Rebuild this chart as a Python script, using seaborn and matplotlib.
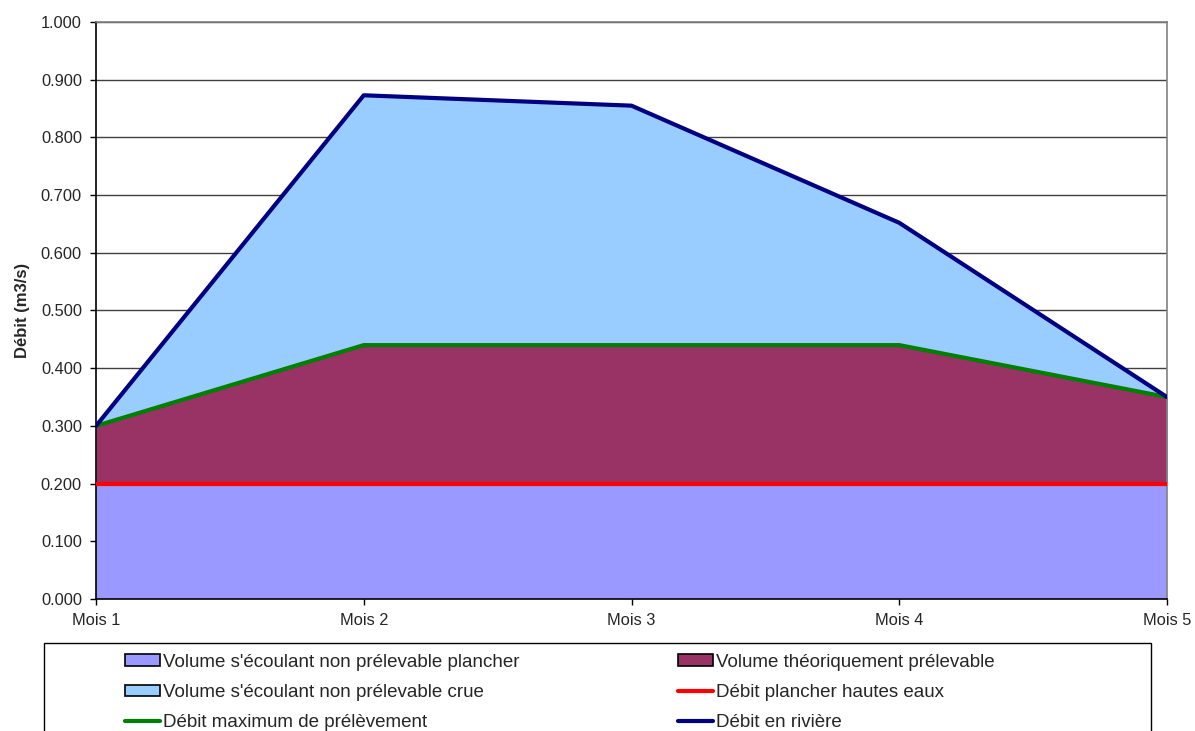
import matplotlib
matplotlib.use("Agg")
import matplotlib.pyplot as plt
import seaborn as sns
import pandas as pd
from matplotlib.patches import Patch, Rectangle
from matplotlib.lines import Line2D
from matplotlib.ticker import StrMethodFormatter, MultipleLocator

# ---- data ----
months = ["Mois 1", "Mois 2", "Mois 3", "Mois 4", "Mois 5"]
debit_riviere = [0.300, 0.873, 0.855, 0.652, 0.350]
debit_max_prelevement = [0.300, 0.440, 0.440, 0.440, 0.350]
debit_plancher = [0.200, 0.200, 0.200, 0.200, 0.200]

labels = {
    "plancher_vol": "Volume s'écoulant non prélevable plancher",
    "theo_vol": "Volume théoriquement prélevable",
    "crue_vol": "Volume s'écoulant non prélevable crue",
    "plancher_line": "Débit plancher hautes eaux",
    "max_line": "Débit maximum de prélèvement",
    "riviere_line": "Débit en rivière",
}

c_plancher = "#9999FF"
c_theo = "#993366"
c_crue = "#99CCFF"
c_red = "#FF0000"
c_green = "#008000"
c_navy = "#000080"

sns.set_style("white")
plt.rcParams["font.family"] = ["Liberation Sans", "DejaVu Sans"]
FS = 11.8
FS_LEG = 13.5

x = list(range(1, len(months) + 1))
df = pd.DataFrame({"x": x, "riviere": debit_riviere,
                   "maxp": debit_max_prelevement, "plancher": debit_plancher})

fig = plt.figure(figsize=(11.95, 7.31), dpi=100)
ax = fig.add_axes([96 / 1195, 1 - 599 / 731, (1167 - 96) / 1195, (599 - 22) / 731])

ax.fill_between(df["x"], 0, df["plancher"], color=c_plancher, lw=0, zorder=2)
ax.fill_between(df["x"], df["plancher"], df["maxp"], color=c_theo, lw=0, zorder=2)
ax.fill_between(df["x"], df["maxp"], df["riviere"], color=c_crue, lw=0, zorder=2)

sns.lineplot(data=df, x="x", y="plancher", color=c_red, lw=3, ax=ax, zorder=4)
sns.lineplot(data=df, x="x", y="maxp", color=c_green, lw=3, ax=ax, zorder=5)
sns.lineplot(data=df, x="x", y="riviere", color=c_navy, lw=3, ax=ax, zorder=6)

ax.set_xlim(1, 5)
ax.set_ylim(0, 1.0)
ax.yaxis.set_major_locator(MultipleLocator(0.1))
ax.yaxis.set_major_formatter(StrMethodFormatter("{x:.3f}"))
ax.set_xticks(x)
ax.set_xticklabels(months)
ax.set_xlabel("")
ax.set_ylabel("Débit (m3/s)", fontsize=12, fontweight="bold")
ax.yaxis.set_label_coords(-0.062, 0.5)

ax.grid(axis="y", color="#404040", lw=1)
ax.grid(axis="x", visible=False)
ax.set_axisbelow(True)

ax.tick_params(axis="both", which="major", labelsize=FS, direction="out",
               length=4.3, width=1, color="black", left=True, bottom=True)
ax.tick_params(axis="y", pad=5.8)
ax.tick_params(axis="x", pad=6)

for side in ["left", "bottom"]:
    ax.spines[side].set_color("black")
    ax.spines[side].set_linewidth(1.2)
for side in ["top", "right"]:
    ax.spines[side].set_color("#808080")
    ax.spines[side].set_linewidth(1.2)

# legend frame (extends past the figure bottom)
fig.patches.append(Rectangle((44 / 1195, -0.05), (1151 - 44) / 1195, (1 - 643 / 731) + 0.05,
                             transform=fig.transFigure, facecolor="white",
                             edgecolor="black", lw=1, zorder=0))

h_plancher = Patch(facecolor=c_plancher, edgecolor="black", lw=1.2)
h_theo = Patch(facecolor=c_theo, edgecolor="black", lw=1.2)
h_crue = Patch(facecolor=c_crue, edgecolor="black", lw=1.2)
h_red = Line2D([], [], color=c_red, lw=3)
h_green = Line2D([], [], color=c_green, lw=3)
h_navy = Line2D([], [], color=c_navy, lw=3)

common = dict(frameon=False, fontsize=FS_LEG, handlelength=1.85, handletextpad=0.2,
              handleheight=0.6, labelspacing=0.7, borderpad=0, borderaxespad=0,
              loc="upper left")
leg1 = fig.legend([h_plancher, h_crue, h_green],
                  [labels["plancher_vol"], labels["crue_vol"], labels["max_line"]],
                  bbox_to_anchor=(125 / 1195, 1 - 654 / 731), **common)
leg2 = fig.legend([h_theo, h_red, h_navy],
                  [labels["theo_vol"], labels["plancher_line"], labels["riviere_line"]],
                  bbox_to_anchor=(678 / 1195, 1 - 654 / 731), **common)

fig.savefig("out.png", dpi=100)
